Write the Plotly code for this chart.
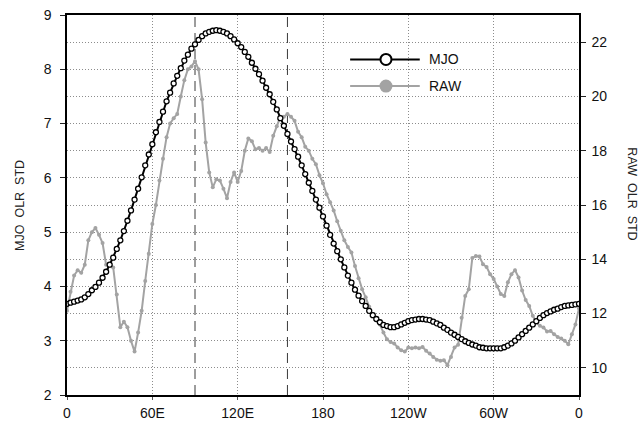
import numpy as np
import plotly.graph_objects as go

lon = np.arange(0, 362.5, 2.5)

mjo_std = [
    3.68, 3.70, 3.72, 3.74, 3.76, 3.80, 3.86, 3.93, 3.99, 4.07,
    4.16, 4.27, 4.40, 4.53, 4.69, 4.85, 5.02, 5.21, 5.40, 5.60,
    5.80, 6.01, 6.23, 6.43, 6.62, 6.84, 7.03, 7.22, 7.41, 7.57,
    7.74, 7.88, 8.02, 8.16, 8.27, 8.38, 8.46, 8.54, 8.61, 8.66,
    8.69, 8.71, 8.72, 8.71, 8.69, 8.66, 8.61, 8.55, 8.48, 8.41,
    8.32, 8.23, 8.12, 8.01, 7.91, 7.79, 7.66, 7.54, 7.40, 7.26,
    7.10, 6.96, 6.81, 6.67, 6.53, 6.39, 6.23, 6.07, 5.91, 5.76,
    5.60, 5.45, 5.29, 5.12, 4.95, 4.79, 4.65, 4.50, 4.35, 4.20,
    4.07, 3.94, 3.83, 3.73, 3.64, 3.55, 3.47, 3.40, 3.34, 3.29,
    3.27, 3.25, 3.25, 3.27, 3.30, 3.33, 3.36, 3.38, 3.39, 3.40,
    3.40, 3.39, 3.38, 3.35, 3.32, 3.29, 3.24, 3.20, 3.15, 3.11,
    3.07, 3.03, 2.99, 2.96, 2.93, 2.91, 2.88, 2.87, 2.86, 2.86,
    2.86, 2.86, 2.86, 2.88, 2.91, 2.95, 3.00, 3.06, 3.12, 3.18,
    3.24, 3.30, 3.36, 3.42, 3.47, 3.51, 3.54, 3.57, 3.59, 3.62,
    3.64, 3.65, 3.66, 3.67, 3.68,
]

raw_std = [
    12.1, 12.8, 13.4, 13.6, 13.5, 13.8, 14.7, 15.0, 15.15, 14.9,
    14.6, 13.8, 13.8, 13.7, 12.7, 11.5, 11.7, 11.5, 11.0, 10.6,
    11.3, 12.1, 13.2, 14.2, 15.3, 16.0, 16.9, 17.7, 18.5, 19.0,
    19.2, 19.35, 20.0, 20.6, 21.0, 21.1, 21.3, 21.0, 19.9, 18.3,
    17.2, 16.65, 16.95, 16.9, 16.6, 16.25, 16.85, 17.2, 16.85, 17.25,
    18.0, 18.45, 18.35, 18.05, 18.1, 18.0, 18.1, 17.95, 18.55, 18.9,
    19.25, 19.25, 19.35, 19.25, 19.1, 18.7, 18.5, 18.15, 18.0, 17.7,
    17.5, 17.1, 16.8, 16.4, 16.1, 15.8, 15.4, 15.05, 14.7, 14.45,
    14.25, 13.75, 13.3, 12.9, 12.6, 12.25, 11.9, 11.75, 11.6, 11.3,
    11.05, 10.95, 10.9, 10.75, 10.65, 10.6, 10.75, 10.72, 10.75, 10.72,
    10.77, 10.63, 10.53, 10.4, 10.3, 10.26, 10.28, 10.1, 10.4, 10.75,
    10.85, 11.85, 12.65, 12.9, 14.05, 14.12, 14.1, 13.82, 13.72, 13.45,
    13.27, 13.0, 12.72, 12.65, 13.15, 13.45, 13.6, 13.33, 12.85, 12.5,
    12.28, 11.92, 11.67, 11.55, 11.49, 11.34, 11.36, 11.24, 11.14, 11.08,
    11.0, 10.87, 11.24, 11.6, 12.2,
]

x_tickvals = [0, 60, 120, 180, 240, 300, 360]
x_ticktext = ["0", "60E", "120E", "180", "120W", "60W", "0"]
dashed_lons = [90, 155]
series_names = ["MJO", "RAW"]

FONT = "Liberation Sans, Arial, sans-serif"
GRAY = "#a3a3a3"
GRID = "#8c8c8c"
GRIDDASH = "1px,2px"

fig = go.Figure()

fig.add_trace(go.Scatter(
    x=lon, y=raw_std, yaxis="y", mode="lines+markers", name=series_names[1],
    line=dict(color=GRAY, width=2),
    marker=dict(symbol="circle", size=4, color=GRAY),
    showlegend=False,
))
fig.add_trace(go.Scatter(
    x=lon, y=mjo_std, yaxis="y2", mode="lines+markers", name=series_names[0],
    line=dict(color="black", width=2),
    marker=dict(symbol="circle", size=5, color="white",
                line=dict(color="black", width=1.3)),
    showlegend=False,
))

shapes = []
for xv in dashed_lons:
    shapes.append(dict(type="line", xref="x", yref="paper", x0=xv, x1=xv,
                       y0=0, y1=1, line=dict(color="#3a3a3a", width=1, dash="10px,6px"),
                       layer="below"))

# custom legend
leg_x0, leg_x1, leg_xm, leg_tx = 0.553, 0.689, 0.623, 0.703
leg_y = [0.883, 0.813]
leg_styles = [("black", "white"), (GRAY, GRAY)]
annotations = []
for name, yy, (lc, fc) in zip(series_names, leg_y, leg_styles):
    shapes.append(dict(type="line", xref="paper", yref="paper", x0=leg_x0, x1=leg_x1,
                       y0=yy, y1=yy, line=dict(color=lc, width=2)))
    shapes.append(dict(type="circle", xref="paper", yref="paper",
                       xsizemode="pixel", ysizemode="pixel",
                       xanchor=leg_xm, yanchor=yy, x0=-5.5, x1=5.5, y0=-5.5, y1=5.5,
                       line=dict(color=lc, width=2), fillcolor=fc))
    annotations.append(dict(xref="paper", yref="paper", x=leg_tx, y=yy, text=name,
                            showarrow=False, xanchor="left", yanchor="middle",
                            font=dict(family=FONT, size=14, color="#111")))

annotations.append(dict(xref="paper", yref="paper", x=-0.092, y=0.5,
                        text="MJO  OLR  STD", textangle=-90, showarrow=False,
                        xanchor="center", yanchor="middle",
                        font=dict(family=FONT, size=12.5, color="#222")))
annotations.append(dict(xref="paper", yref="paper", x=1.104, y=0.53,
                        text="RAW  OLR  STD", textangle=90, showarrow=False,
                        xanchor="center", yanchor="middle",
                        font=dict(family=FONT, size=12.5, color="#222")))

fig.update_layout(
    width=638, height=423,
    margin=dict(l=67, r=59, t=15, b=28, autoexpand=False),
    paper_bgcolor="white", plot_bgcolor="white",
    font=dict(family=FONT, size=14, color="#111"),
    showlegend=False,
    shapes=shapes,
    annotations=annotations,
    xaxis=dict(
        range=[0, 360], tickvals=x_tickvals, ticktext=x_ticktext,
        showgrid=True, gridcolor=GRID, griddash=GRIDDASH, gridwidth=1,
        showline=True, linecolor="black", linewidth=1.5, mirror=True,
        ticks="outside", ticklen=3, tickcolor="#555", ticklabelstandoff=1,
        zeroline=False, tickfont=dict(size=14), automargin=False,
    ),
    yaxis=dict(
        side="right", range=[9, 23], tick0=10, dtick=2,
        showgrid=True, gridcolor=GRID, griddash=GRIDDASH, gridwidth=1,
        minor=dict(dtick=1, tick0=9, showgrid=True, gridcolor=GRID, griddash=GRIDDASH),
        showline=True, linecolor="black", linewidth=1.5,
        ticks="outside", ticklen=5, tickcolor="#222", ticklabelstandoff=3,
        zeroline=False, tickfont=dict(size=14), automargin=False,
    ),
    yaxis2=dict(
        side="left", overlaying="y", range=[2, 9], dtick=1,
        showgrid=False, showline=True, linecolor="black", linewidth=1.5,
        ticks="outside", ticklen=5, tickcolor="#222", ticklabelstandoff=6,
        zeroline=False, tickfont=dict(size=14), automargin=False,
    ),
)

fig.write_html("out.html")
